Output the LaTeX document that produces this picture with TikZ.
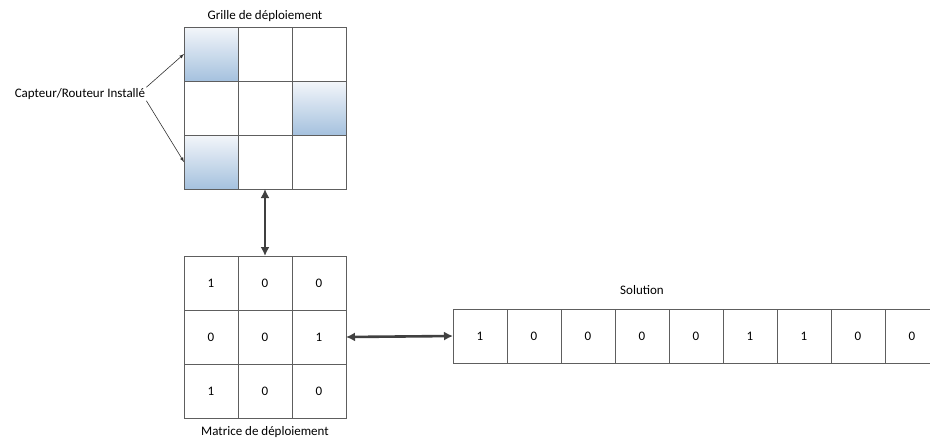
\documentclass[tikz,border=0pt]{standalone}
\usepackage{fontspec}
\setmainfont{Carlito}
\usepackage{tikz}
\usetikzlibrary{positioning, arrows.meta}

\definecolor{gridline}{HTML}{5E5E5E}
\definecolor{arrowgray}{HTML}{404040}
\definecolor{celltop}{HTML}{F3F6FA}
\definecolor{cellbottom}{HTML}{A5C1DE}

\begin{document}
\begin{tikzpicture}[
    x=1pt, y=-1pt,
    >=latex,
    font=\fontsize{13}{15}\selectfont,
    cell/.style={draw=gridline, line width=0.8pt, minimum size=54pt, inner sep=0pt, outer sep=0pt},
    occupied/.style={top color=celltop, bottom color=cellbottom},
    link/.style={draw=arrowgray, line width=2.6pt, {Latex[length=9pt,width=9pt]}-{Latex[length=9pt,width=9pt]}},
    pointer/.style={draw=black!80, line width=0.6pt, ->},
    title/.style={inner sep=1pt}]

    \useasboundingbox (0,0) rectangle (930,440);

    % grille de deploiement
    \node at (211,54) [cell, occupied] (g11) {};
    \node [cell, right=0pt of g11] (g12) {};
    \node [cell, right=0pt of g12] (g13) {};
    \node [cell, below=0pt of g11] (g21) {};
    \node [cell, right=0pt of g21] (g22) {};
    \node [cell, occupied, right=0pt of g22] (g23) {};
    \node [cell, occupied, below=0pt of g21] (g31) {};
    \node [cell, right=0pt of g31] (g32) {};
    \node [cell, right=0pt of g32] (g33) {};
    \node [title, above=4pt of g12] (grille) {Grille de déploiement};

    \node at (80,94) [title] (capteur) {Capteur/Routeur Installé};

    % matrice de deploiement
    \node at (211,283) [cell] (m11) {1};
    \node [cell, right=0pt of m11] (m12) {0};
    \node [cell, right=0pt of m12] (m13) {0};
    \node [cell, below=0pt of m11] (m21) {0};
    \node [cell, right=0pt of m21] (m22) {0};
    \node [cell, right=0pt of m22] (m23) {1};
    \node [cell, below=0pt of m21] (m31) {1};
    \node [cell, right=0pt of m31] (m32) {0};
    \node [cell, right=0pt of m32] (m33) {0};
    \node [title, below=7pt of m32] (matrice) {Matrice de déploiement};

    % solution
    \node at (480,336) [cell] (s1) {1};
    \node [cell, right=0pt of s1] (s2) {0};
    \node [cell, right=0pt of s2] (s3) {0};
    \node [cell, right=0pt of s3] (s4) {0};
    \node [cell, right=0pt of s4] (s5) {0};
    \node [cell, right=0pt of s5] (s6) {1};
    \node [cell, right=0pt of s6] (s7) {1};
    \node [cell, right=0pt of s7] (s8) {0};
    \node [cell, right=0pt of s8] (s9) {0};
    \node [title, above=13pt of s4] (solution) {Solution};

    \draw [pointer] (capteur.north east) -- (g11.west);
    \draw [pointer] (capteur.south east) -- (g31.west);
    \draw [link] (g32.south) -- (m12.north);
    \draw [link] (m23.east) -- (s1.west);

\end{tikzpicture}
\end{document}
